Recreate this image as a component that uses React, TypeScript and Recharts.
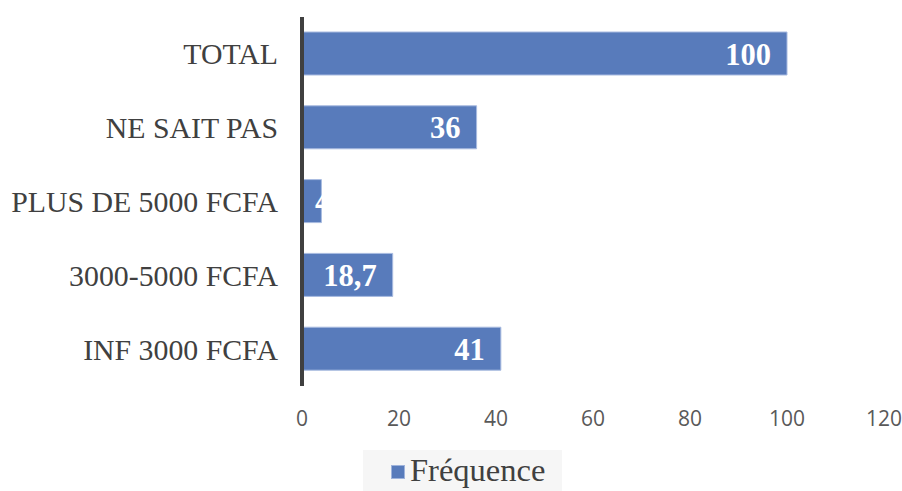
import { BarChart, Bar, XAxis, YAxis, Legend, LabelList } from 'recharts';

const categories = ['TOTAL', 'NE SAIT PAS', 'PLUS DE 5000 FCFA', '3000-5000 FCFA', 'INF 3000 FCFA'];
const frequences = [100, 36, 4, 18.7, 41];
const xTicks = [0, 20, 40, 60, 80, 100, 120];

const data = categories.map((name, i) => ({ name, value: frequences[i] }));

const BAR_COLOR = '#587bbb';
const SERIF = "'Liberation Serif', 'Times New Roman', serif";
const LABEL_SIZE = 30.5;

// white value text, right-aligned inside the bar end; short bars push it right of the axis
const ValueLabel = (props: any) => {
  const { x, y, width, height, value } = props;
  const text = String(value).replace('.', ',');
  const textW = [...text].reduce((s, c) => s + (c === ',' ? 0.25 : 0.5) * LABEL_SIZE, 0);
  const end = x + width - 16;
  const start = Math.max(end - textW, x + 13);
  return (
    <text
      x={start}
      y={y + height / 2 + 1}
      fill="#ffffff"
      fontFamily={SERIF}
      fontWeight="bold"
      fontSize={LABEL_SIZE}
      textAnchor="start"
      dominantBaseline="central"
    >
      {text}
    </text>
  );
};

const LegendBox = () => (
  <div
    style={{
      width: 199,
      height: 41,
      background: '#f6f6f6',
      display: 'flex',
      alignItems: 'center',
      boxSizing: 'border-box',
      paddingLeft: 28,
    }}
  >
    <span style={{ width: 14, height: 14, background: BAR_COLOR, border: '1px solid #9fb3db', boxSizing: 'border-box', marginRight: 5, marginTop: 2 }} />
    <span style={{ fontFamily: SERIF, fontSize: 32.5, color: '#404040', lineHeight: '41px' }}>
      Fréquence
    </span>
  </div>
);

export default function App() {
  return (
    <div style={{ position: 'absolute', left: 0, top: 0, background: '#fff' }}>
      <BarChart
        width={902}
        height={491}
        data={data}
        layout="vertical"
        margin={{ top: 17, right: 18, left: 0, bottom: 14 }}
      >
        <XAxis
          type="number"
          domain={[0, 120]}
          ticks={xTicks}
          axisLine={false}
          tickLine={false}
          tickMargin={19}
          height={50}
          tick={{ fontSize: 21, fill: '#595959', fontFamily: "'Open Sans', sans-serif" }}
        />
        <YAxis
          type="category"
          dataKey="name"
          width={302}
          tickLine={false}
          tickMargin={18}
          axisLine={{ stroke: '#404040', strokeWidth: 4 }}
          tick={{ fontSize: 29.8, fill: '#404040', fontFamily: SERIF }}
        />
        <Legend
          verticalAlign="bottom"
          height={41}
          content={<LegendBox />}
          wrapperStyle={{ left: 363, top: 450, width: 199, height: 41 }}
        />
        <Bar dataKey="value" fill={BAR_COLOR} stroke="#a8bbe0" strokeWidth={1} barSize={43} isAnimationActive={false}>
          <LabelList dataKey="value" content={<ValueLabel />} />
        </Bar>
      </BarChart>
    </div>
  );
}
